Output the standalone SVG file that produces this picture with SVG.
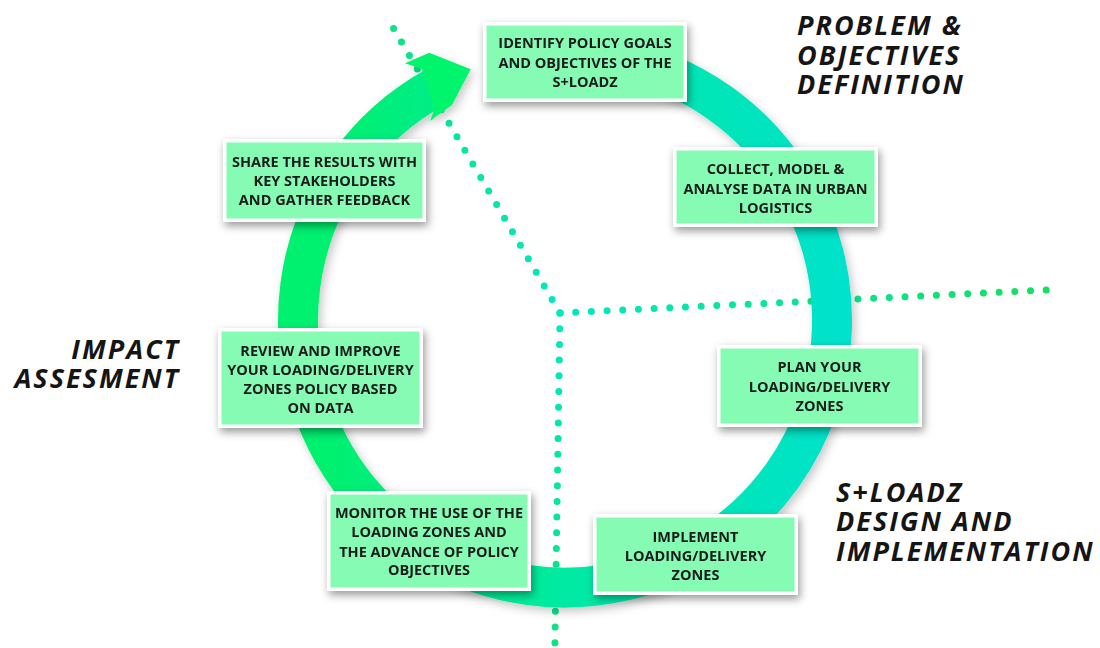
<svg xmlns="http://www.w3.org/2000/svg" width="1100" height="648" viewBox="0 0 1100 648">
<defs>
<linearGradient id="ringGrad" gradientUnits="userSpaceOnUse" x1="330" y1="0" x2="850" y2="0">
<stop offset="0" stop-color="#00f070"/>
<stop offset="0.45" stop-color="#00eaa2"/>
<stop offset="1" stop-color="#00e2cc"/>
</linearGradient>
<radialGradient id="dotGrad" gradientUnits="userSpaceOnUse" cx="560" cy="313" r="490">
<stop offset="0" stop-color="#00e9bf"/>
<stop offset="1" stop-color="#12e062"/>
</radialGradient>
<filter id="shadow" x="-20%" y="-20%" width="140%" height="150%">
<feDropShadow dx="2" dy="4" stdDeviation="4" flood-color="#000" flood-opacity="0.4"/>
</filter>
<filter id="ringShadow" x="-10%" y="-10%" width="120%" height="120%">
<feDropShadow dx="3" dy="4" stdDeviation="5" flood-color="#000" flood-opacity="0.22"/>
</filter>
<style>
.dots{fill:none;stroke:url(#dotGrad);stroke-width:7;stroke-linecap:round;stroke-dasharray:0 15.7}
.box{fill:#86fbb4;stroke:#ffffff;stroke-width:3.5}
.lbl{font-family:"Open Sans","Liberation Sans",sans-serif;font-weight:bold;font-size:14.5px;fill:#1c1c1c;text-anchor:middle}
.head{font-family:"Open Sans","Liberation Sans",sans-serif;font-weight:bold;font-style:italic;font-size:27px;fill:#151515;letter-spacing:2px}
</style>
</defs>
<rect width="1100" height="648" fill="#ffffff"/>

<g id="connectors">
<path class="dots" d="M560,313 L391,24"/>
<path class="dots" d="M560,313 L1048,290"/>
<path class="dots" d="M560,313 L554.8,650"/>
</g>

<g id="cycle" filter="url(#ringShadow)">
<path d="M611.4,57.6 A267,267 0 1 1 435.6,87" fill="none" stroke="url(#ringGrad)" stroke-width="40"/>
<polygon points="422,69 405,63.3 429.3,52.7 470.7,69.3 452,105 430,121 434,110" fill="#00f56c"/>
</g>

<g id="node-identify" filter="url(#shadow)">
<rect class="box" x="484.75" y="23.75" width="200.5" height="76.5"/>
<text class="lbl" x="585" y="48.3">IDENTIFY POLICY GOALS</text>
<text class="lbl" x="585" y="67.7">AND OBJECTIVES OF THE</text>
<text class="lbl" x="585" y="87.3">S+LOADZ</text>
</g>

<g id="node-collect" filter="url(#shadow)">
<rect class="box" x="674.75" y="148.75" width="201.5" height="76.5"/>
<text class="lbl" x="775.5" y="174.3">COLLECT, MODEL &amp;</text>
<text class="lbl" x="775.5" y="194">ANALYSE DATA IN URBAN</text>
<text class="lbl" x="775.5" y="212.5">LOGISTICS</text>
</g>

<g id="node-plan" filter="url(#shadow)">
<rect class="box" x="718.75" y="346.75" width="201.5" height="78.5"/>
<text class="lbl" x="819.5" y="372.3">PLAN YOUR</text>
<text class="lbl" x="819.5" y="391.7">LOADING/DELIVERY</text>
<text class="lbl" x="819.5" y="411">ZONES</text>
</g>

<g id="node-implement" filter="url(#shadow)">
<rect class="box" x="594.75" y="515.75" width="201.5" height="77.5"/>
<text class="lbl" x="695.5" y="541.7">IMPLEMENT</text>
<text class="lbl" x="695.5" y="560.7">LOADING/DELIVERY</text>
<text class="lbl" x="695.5" y="579.5">ZONES</text>
</g>

<g id="node-monitor" filter="url(#shadow)">
<rect class="box" x="328.75" y="492.75" width="200.5" height="96.5"/>
<text class="lbl" x="429" y="517.7">MONITOR THE USE OF THE</text>
<text class="lbl" x="429" y="537.3">LOADING ZONES AND</text>
<text class="lbl" x="429" y="556.7">THE ADVANCE OF POLICY</text>
<text class="lbl" x="429" y="575">OBJECTIVES</text>
</g>

<g id="node-review" filter="url(#shadow)">
<rect class="box" x="219.75" y="329.75" width="201.5" height="96.5"/>
<text class="lbl" x="320.5" y="355.7">REVIEW AND IMPROVE</text>
<text class="lbl" x="320.5" y="375">YOUR LOADING/DELIVERY</text>
<text class="lbl" x="320.5" y="394">ZONES POLICY BASED</text>
<text class="lbl" x="320.5" y="413.3">ON DATA</text>
</g>

<g id="node-share" filter="url(#shadow)">
<rect class="box" x="224.75" y="140.75" width="199.5" height="79.5"/>
<text class="lbl" x="324.5" y="166.7">SHARE THE RESULTS WITH</text>
<text class="lbl" x="324.5" y="186.2">KEY STAKEHOLDERS</text>
<text class="lbl" x="324.5" y="205">AND GATHER FEEDBACK</text>
</g>

<g id="heading-problem">
<text class="head" x="797" y="35">PROBLEM &amp;</text>
<text class="head" x="797" y="65">OBJECTIVES</text>
<text class="head" x="797" y="94">DEFINITION</text>
</g>

<g id="heading-design">
<text class="head" x="836" y="502">S+LOADZ</text>
<text class="head" x="836" y="531">DESIGN AND</text>
<text class="head" x="836" y="561">IMPLEMENTATION</text>
</g>

<g id="heading-impact">
<text class="head" x="180" y="359" text-anchor="end">IMPACT</text>
<text class="head" x="180" y="388" text-anchor="end">ASSESMENT</text>
</g>
</svg>
